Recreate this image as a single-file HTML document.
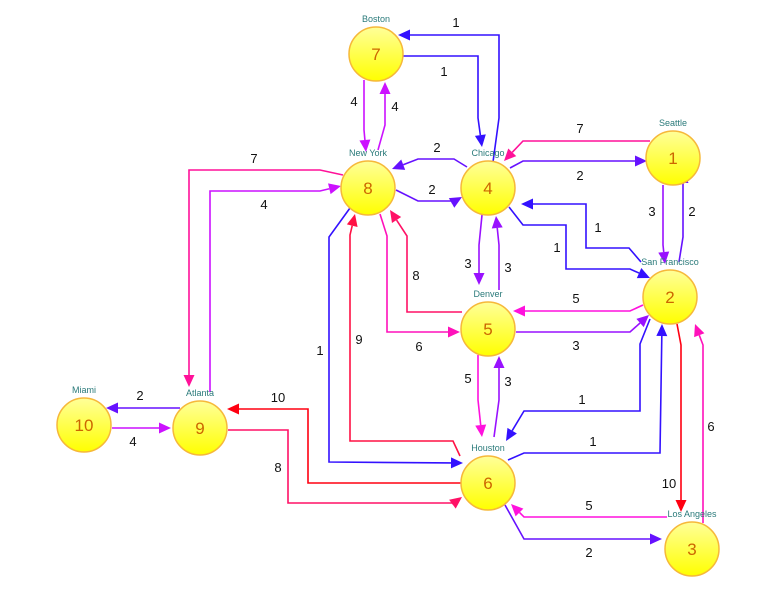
<!DOCTYPE html>
<html><head><meta charset="utf-8"><style>
html,body{margin:0;padding:0;background:#fff;}
svg{display:block;font-family:"Liberation Sans",sans-serif;}
</style></head><body>
<svg id="g" width="765" height="589" viewBox="0 0 765 589">
<defs>
<linearGradient id="ng" x1="0" y1="0" x2="0" y2="1">
<stop offset="0" stop-color="#ffff99"/><stop offset="1" stop-color="#ffff00"/>
</linearGradient>
</defs>
<g id="edges"></g><g id="nodes"></g>
</svg>
<script>
const nodeIds=[1,2,3,4,5,6,7,8,9,10];
const nodeNames=["Seattle","San Francisco","Los Angeles","Chicago","Denver","Houston","Boston","New York","Atlanta","Miami"];
const nodeX=[673,670,692,488,488,488,376,368,200,84];
const nodeY=[158,297,549,188,329,483,54,188,428,425];
const edgeFrom=[4,7,7,8,4,8,1,4,1,2,2,4,4,5,2,5,5,6,2,6,2,3,3,6,8,9,9,10,8,6,5,8,6,9];
const edgeTo=[7,4,8,7,8,4,4,1,2,1,4,2,5,4,5,2,6,5,6,2,3,2,6,3,9,8,10,9,6,8,8,5,9,6];
const edgeWeights=[1,1,4,4,2,2,7,2,3,2,1,1,3,3,5,3,5,3,1,1,10,6,5,2,7,4,2,4,1,9,8,6,10,8];
// routing geometry (layout, not data)
const routes=[
[[493,162],[499,118],[499,35],[398,35]],
[[403,56],[478,56],[478,118],[482,147]],
[[364,80],[364,130],[366,152]],
[[378,150],[385,125],[385,82]],
[[467,167],[454,159],[418,159],[392,169]],
[[396,190],[418,201],[455,201],[462,197]],
[[650,141],[523,141],[504,161]],
[[510,168],[523,161],[647,161]],
[[663,185],[663,245],[665,264]],
[[679,262],[683,237],[683,171]],
[[641,262],[629,248],[586,248],[586,204],[521,204]],
[[509,207],[523,225],[566,225],[566,269],[630,269],[650,278]],
[[482,215],[479,245],[479,285]],
[[499,290],[499,245],[496,216]],
[[643,305],[630,311],[513,311]],
[[516,332],[630,332],[649,315]],
[[478,355],[478,400],[482,437]],
[[494,437],[499,400],[499,356]],
[[650,319],[640,344],[640,411],[524,411],[506,441]],
[[508,460],[524,453],[660,453],[662,324]],
[[677,324],[681,345],[681,512]],
[[703,523],[703,345],[695,324]],
[[667,517],[524,517],[511,504]],
[[505,505],[524,539],[662,539]],
[[343,175],[320,170],[189,170],[189,387]],
[[210,392],[210,191],[320,191],[341,186]],
[[180,408],[106,408]],
[[112,428],[171,428]],
[[350,208],[329,237],[329,462],[463,463]],
[[460,456],[453,441],[350,441],[350,235],[355,214]],
[[462,312],[407,312],[407,236],[390,210]],
[[380,214],[387,236],[387,332],[460,332]],
[[461,483],[453,483],[308,483],[308,409],[227,409]],
[[228,430],[288,430],[288,503],[454,503],[462,497]]
];
const labelPos=[[456,22],[444,71],[354,101],[395,106],[437,147],[432,189],[580,128],[580,175],[652,211],[692,211],[598,227],[557,247],[468,263],[508,267],[576,298],[576,345],[468,378],[508,381],[582,399],[593,441],[669,483],[711,426],[589,505],[589,552],[254,158],[264,204],[140,395],[133,441],[320,350],[359,339],[416,275],[419,346],[278,397],[278,467]];
const colors={1:"#3311ff",2:"#6611ff",3:"#9911ff",4:"#cc11ff",5:"#ff11dd",6:"#ff11bb",7:"#ff1199",8:"#ff1166",9:"#ff1144",10:"#ff0011"};
const NS="http://www.w3.org/2000/svg";
const eg=document.getElementById('edges'),ng=document.getElementById('nodes');
routes.forEach((pts,i)=>{
  const w=edgeWeights[i],c=colors[w]||"#3311ff";
  const g=document.createElementNS(NS,'g');
  
  
  const n=pts.length,tip=pts[n-1],prev=pts[n-2];
  const dx=tip[0]-prev[0],dy=tip[1]-prev[1],L=Math.hypot(dx,dy),ux=dx/L,uy=dy/L;
  const bx=tip[0]-ux*12,by=tip[1]-uy*12;
  const line=pts.slice(0,n-1).map(p=>p.join(',')).join(' ')+' '+bx+','+by;
  const pl=document.createElementNS(NS,'polyline');
  pl.setAttribute('points',line);pl.setAttribute('fill','none');pl.setAttribute('stroke',c);pl.setAttribute('stroke-width','1.6');
  g.appendChild(pl);
  const ah=document.createElementNS(NS,'polygon');
  ah.setAttribute('points',`${tip[0]},${tip[1]} ${bx-uy*5.5},${by+ux*5.5} ${bx+uy*5.5},${by-ux*5.5}`);
  ah.setAttribute('fill',c);
  
  
  g.appendChild(ah);
  const t=document.createElementNS(NS,'text');
  t.setAttribute('x',labelPos[i][0]);t.setAttribute('y',labelPos[i][1]+5);
  t.setAttribute('text-anchor','middle');t.setAttribute('font-size','13');t.setAttribute('fill','#111');
  
  
  t.textContent=w;g.appendChild(t);
  eg.appendChild(g);
});
nodeIds.forEach((id,i)=>{
  const g=document.createElementNS(NS,'g');
  
  
  const c=document.createElementNS(NS,'circle');
  c.setAttribute('cx',nodeX[i]);c.setAttribute('cy',nodeY[i]);c.setAttribute('r',27);
  c.setAttribute('fill','url(#ng)');c.setAttribute('stroke','#f6b83a');c.setAttribute('stroke-width','1.5');
  g.appendChild(c);
  const t=document.createElementNS(NS,'text');
  t.setAttribute('x',nodeX[i]);t.setAttribute('y',nodeY[i]+6);t.setAttribute('text-anchor','middle');
  t.setAttribute('font-size','17');t.setAttribute('fill','#cc6600');
  
  
  t.textContent=id;g.appendChild(t);
  const n=document.createElementNS(NS,'text');
  n.setAttribute('x',nodeX[i]);n.setAttribute('y',nodeY[i]-32);n.setAttribute('text-anchor','middle');
  n.setAttribute('font-size','9');n.setAttribute('fill','#2a7a7a');
  
  
  n.textContent=nodeNames[i];g.appendChild(n);
  ng.appendChild(g);
});
</script>
</body></html>
